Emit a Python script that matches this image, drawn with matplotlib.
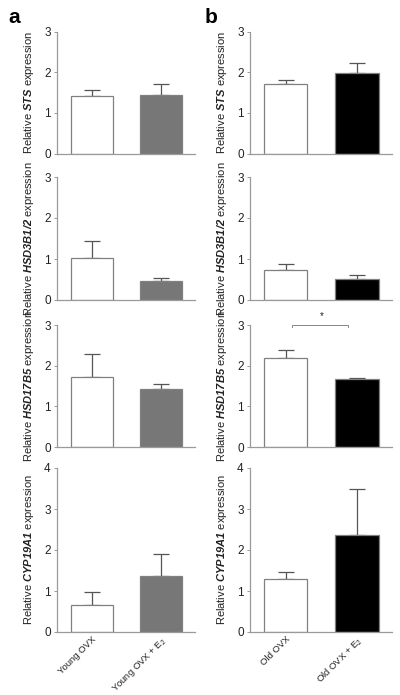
import numpy as np
import matplotlib
matplotlib.use('agg')
import matplotlib.pyplot as plt

plt.rcParams['font.family'] = ['Liberation Sans', 'DejaVu Sans']
plt.rcParams['mathtext.fontset'] = 'custom'
plt.rcParams['mathtext.rm'] = 'Liberation Sans'
plt.rcParams['mathtext.it'] = 'Liberation Sans:italic'
plt.rcParams['mathtext.bf'] = 'Liberation Sans:bold'
plt.rcParams['mathtext.bfit'] = 'Liberation Sans:bold:italic'

genes = ['STS', 'HSD3B1/2', 'HSD17B5', 'CYP19A1']
ymax = [3, 3, 3, 4]

labels_young = ['Young OVX', 'Young OVX + E$_2$']
labels_old = ['Old OVX', 'Old OVX + E$_2$']

# means and upper error (SEM) per gene, [OVX, OVX + E2]
young_mean = [[1.41, 1.44], [1.03, 0.455], [1.71, 1.42], [0.67, 1.37]]
young_err = [[0.14, 0.26], [0.42, 0.09], [0.58, 0.12], [0.30, 0.53]]
old_mean = [[1.71, 1.98], [0.72, 0.52], [2.20, 1.66], [1.30, 2.37]]
old_err = [[0.10, 0.24], [0.17, 0.10], [0.18, 0.04], [0.17, 1.11]]

young_colors = ['white', '#777777']
old_colors = ['white', 'black']

W, H = 400, 695
rows_px = [(31.5, 153.5), (177, 300), (325, 447), (468, 632)]
cols_px = [(57, 195), (250, 392)]
spine_c = '#9a9a9a'

fig = plt.figure(figsize=(4.0, 6.95), dpi=100)

for c, (means, errs, cols, xl) in enumerate([
        (young_mean, young_err, young_colors, labels_young),
        (old_mean, old_err, old_colors, labels_old)]):
    x0, x1 = cols_px[c]
    for r in range(4):
        y0, y1 = rows_px[r]
        ax = fig.add_axes([x0 / W, 1 - y1 / H, (x1 - x0) / W, (y1 - y0) / H])
        x = np.arange(2)
        ax.bar(x, means[r], width=0.61, color=cols, edgecolor='#808080',
               linewidth=0.9, zorder=2)
        ax.errorbar(x, means[r], yerr=[[0, 0], errs[r]], fmt='none',
                    ecolor='#555555', elinewidth=0.9, capsize=5.8,
                    capthick=0.9, zorder=1)
        ax.set_xlim(-0.5, 1.49)
        ax.set_ylim(0, ymax[r])
        ax.set_yticks(range(ymax[r] + 1))
        for s in ['top', 'right']:
            ax.spines[s].set_visible(False)
        for s in ['left', 'bottom']:
            ax.spines[s].set_color(spine_c)
            ax.spines[s].set_linewidth(0.9)
        ax.tick_params(axis='y', length=2.5, width=0.7, color=spine_c,
                       labelsize=8.5, labelcolor='#222222', pad=2)
        if r == 3:
            ax.set_xticks(x)
            ax.set_xticklabels(xl, rotation=45, ha='right',
                               rotation_mode='anchor', fontsize=6.8,
                               color='#222222')
            ax.tick_params(axis='x', length=0, pad=2)
        else:
            ax.set_xticks([])
        ax.set_ylabel(r'Relative $\mathbfit{' + genes[r] + r'}$ expression',
                      fontsize=8, color='#222222', labelpad=6)
        if c == 1 and r == 2:
            ax.plot([0.085, 0.085, 0.88, 0.88], [2.96, 3.0, 3.0, 2.96],
                    color='#888888', lw=0.7, clip_on=False)
            ax.text(0.51, 3.1, '*', ha='center', va='bottom', fontsize=7,
                    color='#222222')

fig.text(8 / W, 1 - 23 / H, 'a', fontsize=15, fontweight='bold')
fig.text(205 / W, 1 - 23 / H, 'b', fontsize=15, fontweight='bold')

fig.savefig('out.png', dpi=100)
